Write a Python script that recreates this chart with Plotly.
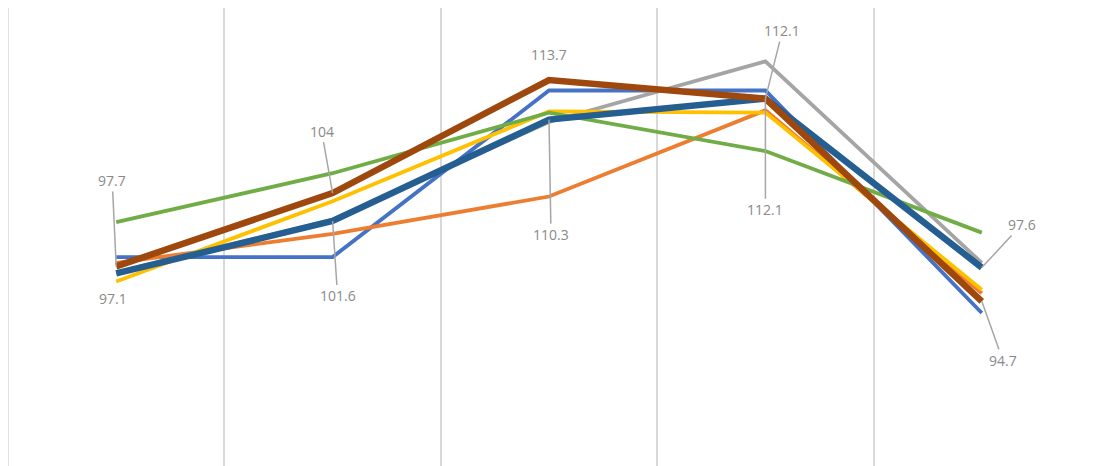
import plotly.graph_objects as go

categories = ["1", "2", "3", "4", "5"]

blue = [98.5, 98.5, 112.8, 112.8, 93.7]
orange = [98.0, 100.5, 103.7, 111.1, 95.4]
gray = [97.2, 101.7, 110.1, 115.3, 98.0]
yellow = [96.4, 103.3, 111.0, 110.9, 95.7]
green = [101.5, 105.7, 110.9, 107.6, 100.6]
dark_blue = [97.1, 101.6, 110.3, 112.1, 97.6]
brown = [97.7, 104.0, 113.7, 112.1, 94.7]

series = [
    ("blue", blue, "#4472C4", 3.8),
    ("orange", orange, "#ED7D31", 3.8),
    ("gray", gray, "#A5A5A5", 3.8),
    ("yellow", yellow, "#FFC000", 3.8),
    ("green", green, "#70AD47", 3.8),
    ("dark_blue", dark_blue, "#255E91", 6.5),
    ("brown", brown, "#9E480E", 6.5),
]

x = list(range(len(categories)))

fig = go.Figure()
for name, vals, color, w in series:
    fig.add_trace(go.Scatter(x=x, y=vals, mode="lines", name=name,
                             line=dict(color=color, width=w),
                             hoverinfo="skip"))

# label offsets (pixels) for brown and dark blue labels
brown_off = [(-4, -86), (-11, -62), (0, -26), (17, -68), (21, 59)]
dblue_off = [(-3, 25), (5, 75), (2, 115), (0, 111), (40, -43)]
brown_arrow = [True, True, False, True, True]
dblue_arrow = [False, True, True, True, True]

def fmt(v):
    s = f"{v:.1f}"
    return s[:-2] if s.endswith(".0") else s

font = dict(family="Open Sans", size=14, color="#898989")
for vals, offs, arrows in ((brown, brown_off, brown_arrow), (dark_blue, dblue_off, dblue_arrow)):
    for i, v in enumerate(vals):
        ax, ay = offs[i]
        if arrows[i]:
            fig.add_annotation(x=i, y=v, text=fmt(v), showarrow=True,
                               arrowhead=0, arrowwidth=1.5, arrowcolor="#A6A6A6",
                               ax=ax, ay=ay, standoff=0, font=font)
        else:
            fig.add_annotation(x=i, y=v, text=fmt(v), showarrow=False,
                               xshift=ax, yshift=-ay, font=font)

# edge gridlines (plotly hides gridlines on the plot edges)
for px in (0, 1):
    fig.add_shape(type="line", xref="paper", yref="paper", x0=px, x1=px, y0=0, y1=1,
                  line=dict(color="#D9D9D9", width=1.5), layer="below")

fig.update_layout(
    width=1085, height=458,
    margin=dict(l=0, r=3, t=0, b=0),
    paper_bgcolor="white", plot_bgcolor="white",
    showlegend=False,
    xaxis=dict(range=[-0.5, 4.5], tickvals=[-0.5, 0.5, 1.5, 2.5, 3.5, 4.5],
               ticktext=[""] * 6, showgrid=True, gridcolor="#D9D9D9", gridwidth=1.5,
               zeroline=False, showline=False, ticks=""),
    yaxis=dict(range=[80.57, 119.88], showgrid=False, zeroline=False,
               showticklabels=False, ticks="", showline=False),
)

fig.write_html("out.html")
